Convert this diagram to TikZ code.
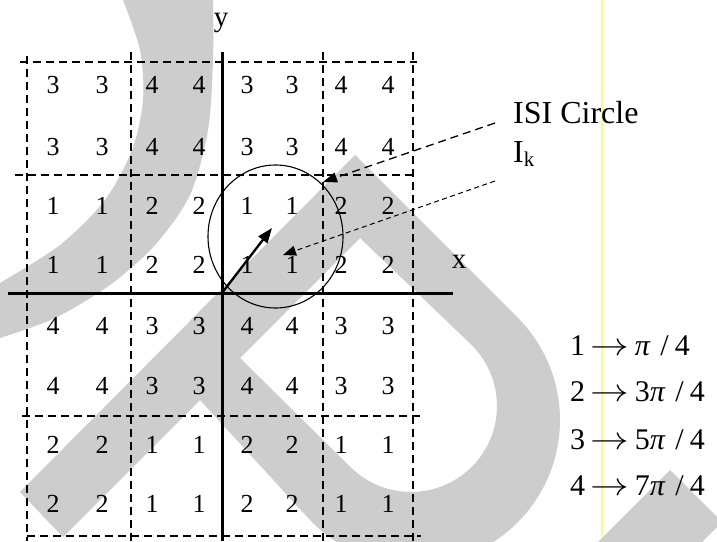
\documentclass[tikz,border=0pt]{standalone}
\usepackage{fontspec}
\setmainfont{Liberation Serif}
\usetikzlibrary{arrows.meta}
\definecolor{wm}{RGB}{205,205,205}
\definecolor{yl}{RGB}{250,250,140}
\newcommand{\legline}[2]{#1\hspace{5pt}\scalebox{1.55}[1.3]{$\rightarrow$}\hspace{6pt}#2\textit{π}\hspace{10pt}/\hspace{6pt}4}
\begin{document}
\begin{tikzpicture}[x=1pt,y=-1pt,
  gridline/.style={line width=1.4pt, dash pattern=on 8pt off 5pt},
  axisline/.style={line width=3pt},
  digit/.style={font=\fontsize{26}{26}\selectfont, inner sep=0pt},
  axlabel/.style={font=\fontsize{29}{29}\selectfont, inner sep=0pt},
  bigtext/.style={font=\fontsize{32}{32}\selectfont, inner sep=0pt, anchor=base west},
  legend/.style={font=\fontsize{30}{30}\selectfont, inner sep=0pt, anchor=base west},
  pointer/.style={line width=1.3pt, dash pattern=on 8pt off 5pt, -{Triangle[length=14pt,width=10pt]}},
  finepointer/.style={line width=1pt, dash pattern=on 5pt off 3.5pt, -{Triangle[length=13pt,width=10pt]}},
  vecarrow/.style={line width=2.3pt, -{Triangle[length=15pt,width=11pt]}}
]
\useasboundingbox (0,0) rectangle (717,541);
\fill[white] (0,0) rectangle (717,541);
% yellow rule
\draw[yl, line width=1.2pt] (602,0) -- (602,541);
% watermark
\fill[wm] (213,-5) -- plot[smooth] coordinates {(213,0) (213,60) (208,130) (190,195) (155,245) (110,285) (55,318) (0,338)}
  -- (-5,338) -- (-5,283) -- plot[smooth] coordinates {(0,283) (60,245) (105,200) (132,150) (143,100) (140,50) (123,0)} -- (123,-5) -- cycle;
\fill[wm, even odd rule] (20,492) -- (355,155)
  -- plot[domain=-45:137.5, samples=60] ({415+145*cos(\x)},{420+145*sin(\x)})
  -- (200,400) -- (63,537) -- cycle
  (360,238) -- plot[domain=-46.2:134.7, samples=50] ({411+86*cos(\x)},{406+86*sin(\x)})
  -- (240,358) -- cycle;
\fill[wm] (670,470) -- (722,522) -- (692,552) -- (588,552) -- cycle;
% grid
\draw[gridline] (20,62) -- (417,62);
\draw[gridline] (15,175) -- (413,175);
\draw[gridline] (22,416) -- (421,416);
\draw[gridline] (27,536) -- (421,536);
\draw[gridline] (27,56) -- (27,541);
\draw[gridline] (131,52) -- (131,541);
\draw[gridline] (323,52) -- (323,541);
\draw[gridline] (413,52) -- (413,541);
% digits
\foreach \yy/\a/\b/\c/\d in {85/3/4/3/4,147/3/4/3/4,206/1/2/1/2,265/1/2/1/2,326/4/3/4/3,386/4/3/4/3,445/2/1/2/1,504/2/1/2/1}{
  \node[digit] (d\yy-1) at (53,\yy) {\a};
  \node[digit] (d\yy-2) at (102,\yy) {\a};
  \node[digit] (d\yy-3) at (152,\yy) {\b};
  \node[digit] (d\yy-4) at (199,\yy) {\b};
  \node[digit] (d\yy-5) at (247,\yy) {\c};
  \node[digit] (d\yy-6) at (292,\yy) {\c};
  \node[digit] (d\yy-7) at (341,\yy) {\d};
  \node[digit] (d\yy-8) at (388,\yy) {\d};
}
% axes
\draw[axisline] (8,293) -- (453,293);
\draw[axisline] (222,52) -- (222,541);
\node[axlabel, anchor=base] (ylab) at (221,26) {y};
\node[axlabel, anchor=base] (xlab) at (459,268) {x};
% ISI circle
\coordinate (cc) at (275.5,236.5);
\draw[line width=1.1pt] (cc) ellipse [x radius=67.5, y radius=71.5];
\coordinate (O) at (222,293);
\coordinate (V) at (272,228);
\draw[vecarrow] (O) -- (V);
% labels
\node[bigtext] (isi) at (513,123) {ISI Circle};
\node[bigtext] (ik) at (513,162) {I\raisebox{-4pt}{\fontsize{21}{21}\selectfont k}};
\coordinate (isiS) at (495,123);
\coordinate (isiT) at (323,182);
\draw[pointer] (isiS) -- (isiT);
\coordinate (ikS) at (495,181);
\coordinate (ikT) at (283,255);
\draw[finepointer] (ikS) -- (ikT);
% legend
\node[legend] (l1) at (570,355) {\legline{1}{}};
\node[legend] (l2) at (570,401) {\legline{2}{3}};
\node[legend] (l3) at (570,449) {\legline{3}{5}};
\node[legend] (l4) at (570,495) {\legline{4}{7}};
\end{tikzpicture}
\end{document}
